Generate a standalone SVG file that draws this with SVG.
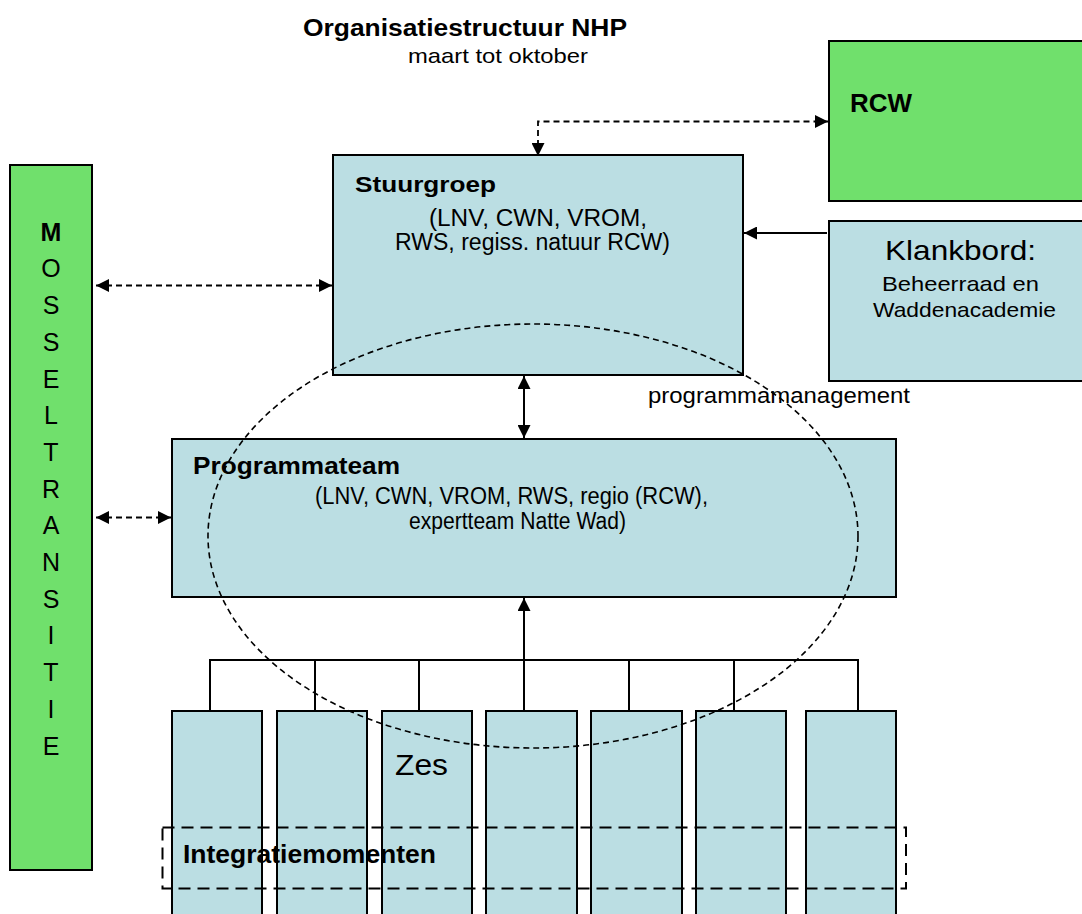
<svg xmlns="http://www.w3.org/2000/svg" width="1082" height="914" viewBox="0 0 1082 914">
<style>
text { font-family: "Liberation Sans", Arial, sans-serif; fill: #000; }
.b { font-weight: bold; }
.box { fill: #bbdee3; stroke: #000; stroke-width: 2; }
.green { fill: #70e06c; stroke: #000; stroke-width: 2; }
.solid { fill: none; stroke: #000; stroke-width: 2; }
.dash { fill: none; stroke: #000; stroke-width: 1.8; stroke-dasharray: 6 4; }
.ell { fill: none; stroke: #000; stroke-width: 1.6; stroke-dasharray: 6 4; }
.longdash { fill: none; stroke: #000; stroke-width: 2; stroke-dasharray: 12 7; }
.ml { font-size: 25px; text-anchor: middle; }
</style>
<defs>
<marker id="ah" viewBox="0 0 13 13" refX="13" refY="6.5" markerWidth="13" markerHeight="13" markerUnits="userSpaceOnUse" orient="auto-start-reverse">
<path d="M0,0 L13,6.5 L0,13 z" fill="#000"/>
</marker>
</defs>

<g id="title">
<text class="b" x="303" y="36" font-size="23.5" textLength="324" lengthAdjust="spacingAndGlyphs">Organisatiestructuur NHP</text>
<text x="408" y="63" font-size="21" textLength="180" lengthAdjust="spacingAndGlyphs">maart tot oktober</text>
</g>

<g id="mosseltransitie">
<rect class="green" x="10" y="165" width="82" height="705"/>
<text class="ml b" x="51" y="240.7">M</text>
<text class="ml" x="51" y="277.4">O</text>
<text class="ml" x="51" y="314.1">S</text>
<text class="ml" x="51" y="350.8">S</text>
<text class="ml" x="51" y="387.5">E</text>
<text class="ml" x="51" y="424.2">L</text>
<text class="ml" x="51" y="460.9">T</text>
<text class="ml" x="51" y="497.6">R</text>
<text class="ml" x="51" y="534.3">A</text>
<text class="ml" x="51" y="571">N</text>
<text class="ml" x="51" y="607.7">S</text>
<text class="ml" x="51" y="644.4">I</text>
<text class="ml" x="51" y="681.1">T</text>
<text class="ml" x="51" y="717.8">I</text>
<text class="ml" x="51" y="754.5">E</text>
</g>

<g id="rcw">
<rect class="green" x="829" y="41" width="270" height="160"/>
<text class="b" x="850" y="112" font-size="25" textLength="62" lengthAdjust="spacingAndGlyphs">RCW</text>
</g>

<g id="stuurgroep">
<rect class="box" x="333" y="155" width="410" height="220"/>
<text class="b" x="355" y="192" font-size="22.5" textLength="141" lengthAdjust="spacingAndGlyphs">Stuurgroep</text>
<text x="429" y="225.5" font-size="23" textLength="218" lengthAdjust="spacingAndGlyphs">(LNV, CWN, VROM,</text>
<text x="395" y="249.5" font-size="23" textLength="275" lengthAdjust="spacingAndGlyphs">RWS, regiss. natuur RCW)</text>
</g>

<g id="klankbord">
<rect class="box" x="829" y="221" width="270" height="160"/>
<text x="885" y="260" font-size="28" textLength="151" lengthAdjust="spacingAndGlyphs">Klankbord:</text>
<text x="882" y="291" font-size="21" textLength="157" lengthAdjust="spacingAndGlyphs">Beheerraad en</text>
<text x="873" y="317" font-size="21" textLength="183" lengthAdjust="spacingAndGlyphs">Waddenacademie</text>
</g>

<g id="programmateam">
<rect class="box" x="172" y="439" width="724" height="158"/>
<text class="b" x="193" y="474" font-size="24" textLength="207" lengthAdjust="spacingAndGlyphs">Programmateam</text>
<text x="315" y="504" font-size="23" textLength="393" lengthAdjust="spacingAndGlyphs">(LNV, CWN, VROM, RWS, regio (RCW),</text>
<text x="409" y="529" font-size="23" textLength="217" lengthAdjust="spacingAndGlyphs">expertteam Natte Wad)</text>
</g>

<g id="kolom1"><rect class="box" x="172" y="711" width="90" height="230"/></g>
<g id="kolom2"><rect class="box" x="277" y="711" width="90" height="230"/></g>
<g id="kolom3"><rect class="box" x="382" y="711" width="90" height="230"/></g>
<g id="kolom4"><rect class="box" x="486" y="711" width="91" height="230"/></g>
<g id="kolom5"><rect class="box" x="591" y="711" width="91" height="230"/></g>
<g id="kolom6"><rect class="box" x="696" y="711" width="90" height="230"/></g>
<g id="kolom7"><rect class="box" x="806" y="711" width="90" height="230"/></g>

<g id="connectors">
<polyline class="dash" points="538,156 538,121.5 828,121.5" marker-start="url(#ah)" marker-end="url(#ah)"/>
<line class="solid" x1="827" y1="233" x2="744" y2="233" marker-end="url(#ah)"/>
<line class="dash" x1="96" y1="285.5" x2="332" y2="285.5" marker-start="url(#ah)" marker-end="url(#ah)"/>
<line class="dash" x1="96" y1="517.5" x2="171" y2="517.5" marker-start="url(#ah)" marker-end="url(#ah)"/>
<line class="solid" x1="524" y1="376" x2="524" y2="438" marker-start="url(#ah)" marker-end="url(#ah)"/>
<polyline class="solid" points="210,711 210,660 858,660 858,711"/>
<line class="solid" x1="315" y1="660" x2="315" y2="711"/>
<line class="solid" x1="419" y1="660" x2="419" y2="711"/>
<line class="solid" x1="629" y1="660" x2="629" y2="711"/>
<line class="solid" x1="734" y1="660" x2="734" y2="711"/>
<line class="solid" x1="524" y1="711" x2="524" y2="598" marker-end="url(#ah)"/>
</g>

<g id="programmamanagement">
<ellipse class="ell" cx="533" cy="536" rx="325" ry="212"/>
<text x="648" y="403" font-size="22" textLength="262" lengthAdjust="spacingAndGlyphs">programmamanagement</text>
</g>

<g id="zes">
<text x="395" y="775" font-size="30" textLength="53" lengthAdjust="spacingAndGlyphs">Zes</text>
</g>

<g id="integratiemomenten">
<rect class="longdash" x="162.5" y="827.5" width="743.5" height="61"/>
<text class="b" x="183" y="863" font-size="26" textLength="253" lengthAdjust="spacingAndGlyphs">Integratiemomenten</text>
</g>
</svg>
